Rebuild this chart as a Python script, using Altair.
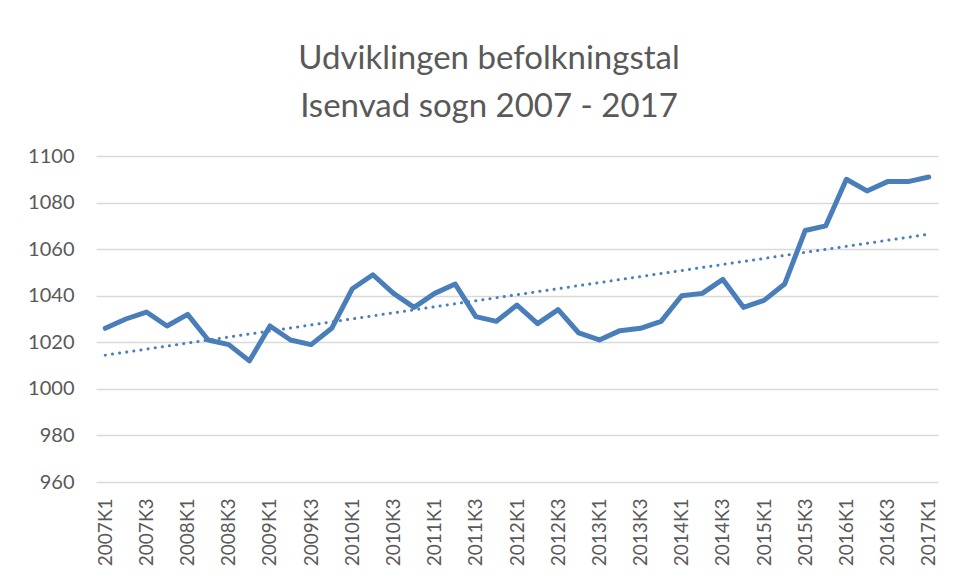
import json
import altair as alt
import pandas as pd

quarters = [f"{y}K{q}" for y in range(2007, 2018) for q in range(1, 5)][:41]
values = [1026, 1030, 1033, 1027, 1032, 1021, 1019, 1012, 1027, 1021,
          1019, 1026, 1043, 1049, 1041, 1035, 1041, 1045, 1031, 1029,
          1036, 1028, 1034, 1024, 1021, 1025, 1026, 1029, 1040, 1041,
          1047, 1035, 1038, 1045, 1068, 1070, 1090, 1085, 1089, 1089,
          1091]
y_ticks = [960, 980, 1000, 1020, 1040, 1060, 1080, 1100]
title_lines = ["Udviklingen befolkningstal", "Isenvad sogn 2007 - 2017"]

df = pd.DataFrame({"idx": list(range(len(values))), "kvartal": quarters, "value": values})

label_expr = json.dumps(quarters) + "[round(datum.value)]"
x_ticks = list(range(0, len(quarters), 2))

blue = "#4a7ebb"
gray_text = "#595959"
font = "Lato"

x_enc = alt.X(
    "idx:Q",
    scale=alt.Scale(domain=[-0.45, 40.45], nice=False, zero=False),
    axis=alt.Axis(values=x_ticks, labelExpr=label_expr, labelAngle=-90, grid=False,
                  ticks=False, domain=False, labelPadding=16, labelFontSize=19,
                  labelColor=gray_text, labelFont=font, title=None),
)
y_enc = alt.Y(
    "value:Q",
    scale=alt.Scale(domain=[960, 1100], nice=False, zero=False),
    axis=alt.Axis(values=y_ticks, format="d", grid=True, gridColor="#d9d9d9", gridWidth=1.5,
                  ticks=False, domain=False, labelPadding=22, labelFontSize=20,
                  labelColor=gray_text, labelFont=font, title=None),
)

line = alt.Chart(df).mark_line(color=blue, strokeWidth=5, strokeJoin="round",
                               strokeCap="round").encode(x=x_enc, y=y_enc)

trend = alt.Chart(df).transform_regression(
    "idx", "value", method="linear", extent=[0, 40]
).mark_line(color=blue, strokeWidth=3, strokeDash=[0.1, 7.1], strokeCap="round").encode(
    x=x_enc, y=y_enc
)

chart = alt.layer(trend, line).properties(
    width=842,
    height=326,
    autosize=alt.AutoSizeParams(type="none"),
    padding={"left": 88, "top": 148, "right": 8, "bottom": 85},
    title=alt.TitleParams(text=title_lines, anchor="middle", fontSize=33, font=font,
                          fontWeight="normal", color=gray_text, lineHeight=48,
                          offset=22, dx=-28),
).configure(background="white").configure_view(strokeWidth=0)

chart.save("out.html", embed_options={"renderer": "svg", "actions": False})
